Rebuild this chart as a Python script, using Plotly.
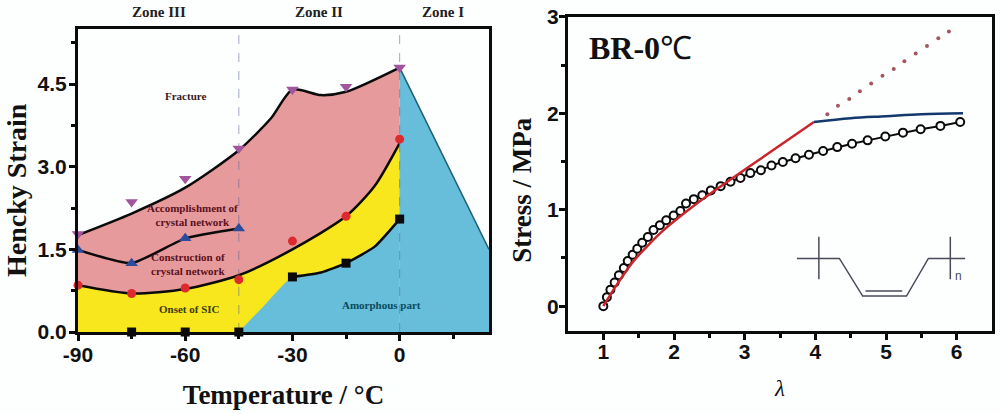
import plotly.graph_objects as go

# left panel: Hencky strain vs temperature
temp = [-90, -75, -60, -45, -30, -15, 0]
fracture_pts = [1.78, 2.36, 2.78, 3.33, 4.4, 4.45, 4.8]
network_temp = [-90, -75, -60, -45]
network_pts = [1.49, 1.25, 1.7, 1.88]
sic_pts = [0.85, 0.7, 0.8, 0.95, 1.65, 2.1, 3.5]
amorph_temp = [-75, -60, -45, -30, -15, 0]
amorph_pts = [0, 0, 0, 1.0, 1.25, 2.05]

# fitted curves that bound the coloured regions
fracture_fit_x = [-90, -75, -60, -45, -36, -30, -22, -15, 0]
fracture_fit_y = [1.76, 2.15, 2.62, 3.3, 3.88, 4.4, 4.3, 4.36, 4.8]
sic_fit_x = [-90, -75, -60, -45, -30, -15, -7, 0]
sic_fit_y = [0.85, 0.7, 0.78, 1.03, 1.5, 2.1, 2.65, 3.43]
amorph_fill_x = [-45, -38, -30, -22, -15, -7, 0]
amorph_fill_y = [0, 0.47, 1.0, 1.08, 1.25, 1.55, 2.05]
amorph_line_x = [-30, -22, -15, -7, 0]
amorph_line_y = [1.0, 1.08, 1.25, 1.55, 2.05]
melt_x = [0, 25]
melt_y = [4.8, 1.5]
zone_lines = [-45, 0]

# right panel: stress vs stretch ratio
lam = [1.0, 1.05, 1.1, 1.16, 1.22, 1.29, 1.345, 1.415, 1.48, 1.55, 1.63, 1.71, 1.8, 1.89, 1.995,
       2.09, 2.17, 2.28, 2.4, 2.52, 2.66, 2.8, 2.94, 3.08, 3.23, 3.38, 3.54, 3.72, 3.91, 4.11,
       4.31, 4.52, 4.74, 4.99, 5.24, 5.49, 5.77, 6.05]
stress = [0, 0.093, 0.17, 0.246, 0.32, 0.395, 0.467, 0.533, 0.595, 0.657, 0.717, 0.79, 0.84, 0.89, 0.94,
          0.987, 1.065, 1.11, 1.15, 1.2, 1.245, 1.29, 1.33, 1.38, 1.41, 1.46, 1.495, 1.535, 1.57, 1.61,
          1.65, 1.685, 1.72, 1.76, 1.8, 1.835, 1.87, 1.91]
red_x = [1.0, 1.17, 1.43, 1.81, 2.37, 3.05, 3.98]
red_y = [0, 0.2, 0.47, 0.76, 1.09, 1.44, 1.91]
blue_x = [3.98, 4.5, 5.0, 5.5, 6.09]
blue_y = [1.91, 1.95, 1.97, 1.99, 2.0]
dots_x = [4.17, 4.32, 4.48, 4.63, 4.79, 4.95, 5.11, 5.26, 5.42, 5.58, 5.74, 5.89]
dots_y = [1.99, 2.08, 2.15, 2.23, 2.31, 2.39, 2.46, 2.54, 2.62, 2.70, 2.78, 2.85]

# polybutadiene repeat unit, drawn in the axis units of the right panel
chain_x = [3.74, 4.34, 4.67, 5.29, 5.60, 6.12, None, 4.71, 5.23, None, 4.05, 4.05, None, 5.91, 5.91]
chain_y = [0.495, 0.495, 0.104, 0.104, 0.495, 0.495, None, 0.156, 0.156, None, 0.72, 0.28, None, 0.72, 0.28]

PINK = "#E79A9B"
YELLOW = "#F8E71C"
BLUE = "#66BEDA"
BLACK = "#0b0b0b"

fig = go.Figure()

# fills, painted bottom up
fig.add_trace(go.Scatter(x=fracture_fit_x, y=fracture_fit_y, mode="lines", fill="tozeroy", fillcolor=PINK,
                         line=dict(color=BLACK, width=2.5, shape="spline", smoothing=0.7)))
fig.add_trace(go.Scatter(x=sic_fit_x, y=sic_fit_y, mode="lines", fill="tozeroy", fillcolor=YELLOW,
                         line=dict(color=BLACK, width=2.5, shape="spline", smoothing=0.7)))
fig.add_trace(go.Scatter(x=amorph_fill_x, y=amorph_fill_y, mode="lines", fill="tozeroy", fillcolor=BLUE,
                         line=dict(color=BLUE, width=0.5, shape="spline", smoothing=0.5)))
fig.add_trace(go.Scatter(x=amorph_line_x, y=amorph_line_y, mode="lines",
                         line=dict(color=BLACK, width=2.5, shape="spline", smoothing=0.5)))
fig.add_trace(go.Scatter(x=melt_x, y=melt_y, mode="lines", fill="tozeroy", fillcolor=BLUE,
                         line=dict(color="#1d5f78", width=1.5)))

for zx in zone_lines:
    fig.add_trace(go.Scatter(x=[zx, zx], y=[0, 5.5], mode="lines",
                             line=dict(color="rgba(90,100,150,0.55)", width=1, dash="dash")))

fig.add_trace(go.Scatter(x=network_temp, y=network_pts, mode="lines+markers", cliponaxis=False,
                         line=dict(color=BLACK, width=2.5, shape="spline", smoothing=0.5),
                         marker=dict(symbol="triangle-up", size=11, color="#2B4C9B")))
fig.add_trace(go.Scatter(x=temp, y=fracture_pts, mode="markers", cliponaxis=False,
                         marker=dict(symbol="triangle-down", size=11, color="#A2559F")))
fig.add_trace(go.Scatter(x=temp, y=sic_pts, mode="markers", cliponaxis=False,
                         marker=dict(symbol="circle", size=9, color="#DC2A2E")))
fig.add_trace(go.Scatter(x=amorph_temp, y=amorph_pts, mode="markers", cliponaxis=False,
                         marker=dict(symbol="square", size=9, color=BLACK)))

# right panel
fig.add_trace(go.Scatter(x=lam, y=stress, xaxis="x2", yaxis="y2", mode="lines+markers",
                         line=dict(color=BLACK, width=2),
                         marker=dict(symbol="circle", size=8, color="white", line=dict(color=BLACK, width=2))))
fig.add_trace(go.Scatter(x=red_x, y=red_y, xaxis="x2", yaxis="y2", mode="lines",
                         line=dict(color="#C9252B", width=2.5, shape="spline", smoothing=0.6)))
fig.add_trace(go.Scatter(x=blue_x, y=blue_y, xaxis="x2", yaxis="y2", mode="lines",
                         line=dict(color="#12386E", width=2.5, shape="spline")))
fig.add_trace(go.Scatter(x=dots_x, y=dots_y, xaxis="x2", yaxis="y2", mode="markers",
                         marker=dict(symbol="circle", size=4, color="#A5565F")))
fig.add_trace(go.Scatter(x=chain_x, y=chain_y, xaxis="x2", yaxis="y2", mode="lines",
                         line=dict(color="#4c4a58", width=1.5)))

tick_font = dict(family="Liberation Sans", size=21, color="#111111", weight=700)
zone_font = dict(family="Liberation Serif", size=15, color="#222222")


def label_font(colour):
    return dict(family="Liberation Serif", size=11, color=colour)


def title_font(size):
    return dict(family="Liberation Serif", size=size, color="#111111")


def axis_style(**kw):
    return dict(automargin=False, showgrid=False, zeroline=False, showline=True, mirror=True,
                linecolor=BLACK, linewidth=3, ticks="outside", ticklen=6, tickwidth=3, tickcolor=BLACK,
                tickfont=tick_font, **kw)


def minor_ticks(vals):
    return dict(tickvals=vals, ticks="outside", ticklen=4, tickwidth=2.5, tickcolor=BLACK)


fig.update_layout(
    width=1000, height=414, margin=dict(l=0, r=0, t=0, b=0),
    paper_bgcolor="#FDFEFE", plot_bgcolor="#FDFEFE", showlegend=False,
    xaxis=axis_style(domain=[0.078, 0.489], range=[-90, 25], ticklabelstandoff=-4,
                     tickvals=[-90, -60, -30, 0], ticktext=["-90", "-60", "-30", "0"],
                     minor=minor_ticks([-75, -45, -15, 15]),
                     title=dict(text="<b>Temperature / °C</b>", font=title_font(27), standoff=20)),
    yaxis=axis_style(domain=[0.198, 0.93], range=[0, 5.5], ticklabelstandoff=-2,
                     tickvals=[0, 1.5, 3, 4.5], ticktext=["0.0", "1.5", "3.0", "4.5"],
                     minor=minor_ticks([0.75, 2.25, 3.75, 5.25])),
    xaxis2=axis_style(domain=[0.568, 0.992], range=[0.5, 6.5], anchor="y2", ticklabelstandoff=-6,
                      tickvals=[1, 2, 3, 4, 5, 6], ticktext=["1", "2", "3", "4", "5", "6"],
                      minor=minor_ticks([1.5, 2.5, 3.5, 4.5, 5.5]),
                      title=dict(text="<i>λ</i>", font=title_font(23), standoff=18)),
    yaxis2=axis_style(domain=[0.2, 0.959], range=[-0.26, 3], anchor="x2", ticklabelstandoff=-4,
                      tickvals=[0, 1, 2, 3], ticktext=["0", "1", "2", "3"],
                      minor=minor_ticks([0.5, 1.5, 2.5])),
)

notes = [
    ("Fracture", "x", "y", -60, 4.28, label_font("#3a1a22")),
    ("Accomplishment of<br>crystal network", "x", "y", -58, 2.13, label_font("#5a1020")),
    ("Construction of<br>crystal network", "x", "y", -59, 1.23, label_font("#5a1020")),
    ("Onset of SIC", "x", "y", -58.7, 0.42, label_font("#3b3a10")),
    ("Amorphous part", "x", "y", -5, 0.49, label_font("#0b4a5a")),
    ("Zone III", "x", "paper", -67.4, 0.971, zone_font),
    ("Zone II", "x", "paper", -22.7, 0.971, zone_font),
    ("Zone I", "x", "paper", 12, 0.971, zone_font),
]
annotations = [dict(text=f"<b>{t}</b>", xref=xr, yref=yr, x=xv, y=yv, showarrow=False, font=f, align="center",
                    xanchor="center", yanchor="middle")
               for t, xr, yr, xv, yv, f in notes]
annotations += [
    dict(text="<b>Hencky Strain</b>", xref="paper", yref="paper", x=0.016, y=0.541, textangle=-90, showarrow=False,
         xanchor="center", yanchor="middle", font=title_font(28)),
    dict(text="<b>Stress / MPa</b>", xref="paper", yref="paper", x=0.522, y=0.539, textangle=-90, showarrow=False,
         xanchor="center", yanchor="middle", font=title_font(27)),
    dict(text="<b>BR-0</b>℃", xref="paper", yref="paper", x=0.64, y=0.884, showarrow=False,
         xanchor="center", yanchor="middle", font=title_font(32)),
    dict(text="n", xref="x2", yref="y2", x=6.03, y=0.31, showarrow=False,
         font=dict(family="Liberation Sans", size=12, color="#4c4a58")),
]
fig.update_layout(annotations=annotations)

# drop the page's default body margin so the figure fills the window
fig.write_html("out.html", config=dict(displayModeBar=False), post_script="document.body.style.margin = '0';")
